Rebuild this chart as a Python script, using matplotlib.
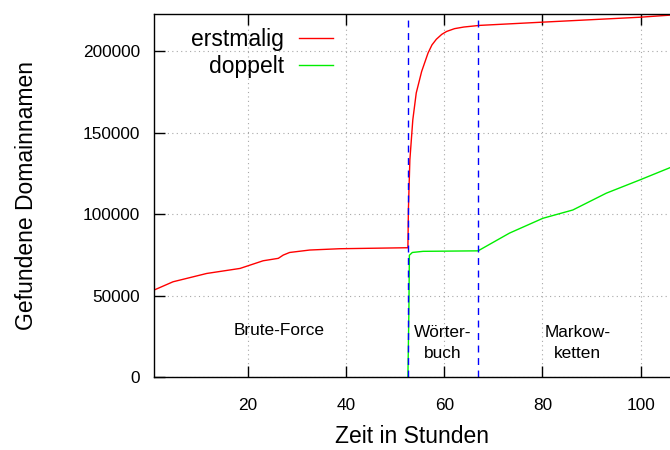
import matplotlib
matplotlib.use('Agg')
import matplotlib.pyplot as plt

erst_x = [0.87, 4.75, 11.6, 18.4, 23.1, 26.2, 27.2, 28.5, 32.6, 38.7, 52.3, 52.6,
          52.7, 53.0, 53.6, 54.3, 55.4, 56.7, 57.5, 58.4, 59.5, 60.5, 62.1, 64.0, 67.2,
          80.1, 99.8, 106.0]
erst_y = [53400, 58500, 63600, 66700, 71400, 72900, 74900, 76500, 78000, 78800, 79400, 79400,
          102600, 133400, 158000, 174500, 187700, 199000, 204000, 207500, 210500, 212300, 214000,
          215000, 216000, 218000, 221000, 222300]

dopp_x = [52.6, 52.8, 52.9, 53.5, 55.7, 66.9, 73.3, 80.1, 86.2, 93.0, 99.8, 106.0]
dopp_y = [0, 40000, 74800, 76500, 77200, 77500, 88400, 97500, 102600, 112900, 121000, 128600]

phasen_x = [52.6, 66.9]
phasen_text = ['Brute-Force', 'Wörter-\nbuch', 'Markow-\nketten']
phasen_text_x = [26.3, 59.7, 87.2]
phasen_text_y = [28500, 21000, 21000]

plt.rcParams['font.family'] = ['Liberation Sans', 'DejaVu Sans']

fig = plt.figure(figsize=(6.7, 4.5), dpi=100)
ax = fig.add_axes([154 / 670, 1 - 377 / 450, 1 - 154 / 670, (377 - 14) / 450])

ax.plot(erst_x, erst_y, color='#ff0000', lw=1.0, label='erstmalig')
ax.plot(dopp_x, dopp_y, color='#00ee00', lw=1.0, label='doppelt')

for px in phasen_x:
    ax.axvline(px, color='#0000ff', lw=1.0, linestyle=(0, (5, 4)))

for t, tx, ty in zip(phasen_text, phasen_text_x, phasen_text_y):
    ax.text(tx, ty, t, ha='center', va='center', fontsize=12.4, linespacing=1.45)

ax.set_xlim(0.87, 106.0)
ax.set_ylim(0, 223000)
ax.set_xticks([20, 40, 60, 80, 100])
ax.set_yticks([0, 50000, 100000, 150000, 200000])
ax.grid(True, color='#a8a8a8', linestyle=(0, (1, 3)), lw=0.8)

ax.tick_params(direction='in', length=8, width=1, labelsize=12.4, top=True, right=False)
ax.tick_params(axis='x', pad=15)
ax.tick_params(axis='y', pad=10)
ax.spines['right'].set_visible(False)
for s in ['left', 'bottom', 'top']:
    ax.spines[s].set_linewidth(1.0)

ax.set_xlabel('Zeit in Stunden', fontsize=16.5, labelpad=9)
ax.set_ylabel('Gefundene Domainnamen', fontsize=16.5, labelpad=32)

ax.legend(loc='upper right', bbox_to_anchor=(0.347, 0.961), markerfirst=False,
          frameon=False, fontsize=16.5, handlelength=1.5, handletextpad=0.65,
          borderpad=0, borderaxespad=0, labelspacing=0.15)

fig.savefig('out.png', dpi=100)
